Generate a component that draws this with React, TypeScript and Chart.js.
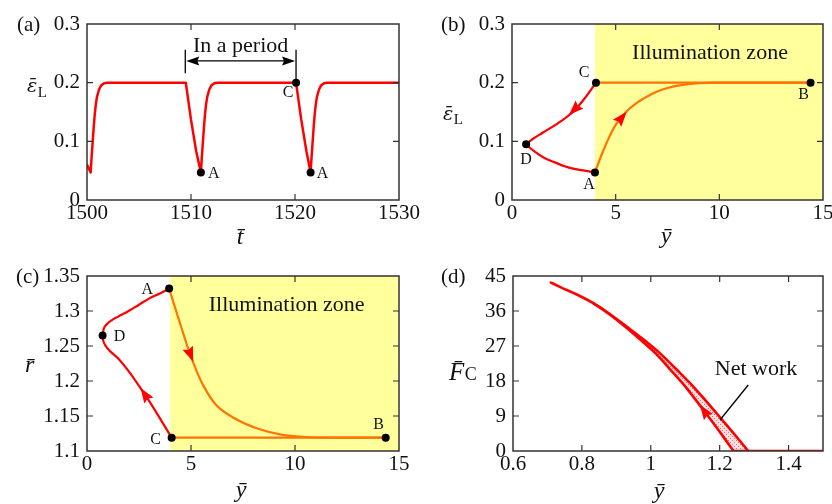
import { useEffect, useRef } from "react";
import { Chart, registerables } from "chart.js";

Chart.register(...registerables);

const SERIF = '"Liberation Serif", "Times New Roman", Times, serif';
const GREEK = '"DejaVu Serif", "Liberation Serif", serif';
Chart.defaults.font.family = SERIF;

const RED = "#ff0000";
const ORANGE = "#ff7300";
const YELLOW = "#ffff9c";
const FRAME = "#333333";
const INK = "#111111";

// ---------------- Panel (a): strain vs time ----------------
const aTime = [
  1500.0, 1500.35, 1500.45, 1500.55, 1500.65, 1500.75, 1500.85, 1500.95, 1501.15, 1501.35, 1501.65, 1501.95,
  1509.5, 1510.0, 1510.5, 1510.95, 1511.05, 1511.15, 1511.25, 1511.35, 1511.45, 1511.55, 1511.75, 1511.95, 1512.25, 1512.55,
  1520.1, 1520.6, 1521.1, 1521.5, 1521.6, 1521.7, 1521.8, 1521.9, 1522.0, 1522.1, 1522.3, 1522.5, 1522.8, 1523.1,
  1530.0,
];
const aStrain = [
  0.06, 0.047, 0.075, 0.1, 0.125, 0.147, 0.163, 0.175, 0.188, 0.195, 0.199, 0.2,
  0.2, 0.137, 0.083, 0.047, 0.075, 0.1, 0.125, 0.147, 0.163, 0.175, 0.188, 0.195, 0.199, 0.2,
  0.2, 0.137, 0.083, 0.047, 0.075, 0.1, 0.125, 0.147, 0.163, 0.175, 0.188, 0.195, 0.199, 0.2,
  0.2,
];
const aMarkT = [1510.95, 1520.1, 1521.5];
const aMarkE = [0.047, 0.2, 0.047];
const aMarkLabels = ["A", "C", "A"];
const aXTicks = [1500, 1510, 1520, 1530];
const aXTickLabels = ["1500", "1510", "1520", "1530"];
const aYTicks = [0, 0.1, 0.2, 0.3];
const aYTickLabels = ["0", "0.1", "0.2", "0.3"];
const aPeriodStart = 1509.45;
const aPeriodEnd = 1520.1;
const aPeriodLevel = 0.237;
const aPeriodBarTop = 0.256;
const aPeriodBarLeftBottom = 0.216;
const aPeriodTextLevel = 0.262;

// ---------------- Panel (b): strain vs displacement ----------------
const bCDy = [4.05, 3.5, 3.0, 2.5, 2.0, 1.5, 1.0, 0.68];
const bCDe = [0.2, 0.173, 0.152, 0.138, 0.126, 0.115, 0.104, 0.095];
const bDAy = [0.68, 1.0, 1.5, 2.0, 2.5, 3.0, 3.5, 4.0];
const bDAe = [0.095, 0.085, 0.073, 0.065, 0.058, 0.053, 0.05, 0.047];
const bABy = [4.0, 4.2, 4.4, 4.7, 5.0, 5.5, 6.0, 6.5, 7.0, 7.5, 8.0, 9.0, 10.0, 14.4];
const bABe = [0.047, 0.066, 0.084, 0.108, 0.128, 0.15, 0.165, 0.176, 0.185, 0.191, 0.195, 0.199, 0.2, 0.2];
const bBCy = [4.05, 14.4];
const bBCe = [0.2, 0.2];
const bMarkY = [4.05, 14.4, 0.68, 4.0];
const bMarkE = [0.2, 0.2, 0.095, 0.047];
const bMarkLabels = ["C", "B", "D", "A"];
const bXTicks = [0, 5, 10, 15];
const bXTickLabels = ["0", "5", "10", "15"];
const bYTicks = [0, 0.1, 0.2, 0.3];
const bYTickLabels = ["0", "0.1", "0.2", "0.3"];
const bZoneStart = 4.0;
const bArrows = [
  [3.25, 0.1625, 2.75, 0.145],
  [5.05, 0.13, 5.55, 0.151],
];
const bZoneTextAt = [9.55, 0.2505];

// ---------------- Panel (c): radius vs displacement ----------------
const cCDy = [4.07, 3.5, 3.0, 2.5, 2.0, 1.5, 1.1, 0.9, 0.78, 0.75];
const cCDr = [1.119, 1.147, 1.171, 1.193, 1.214, 1.232, 1.243, 1.25, 1.258, 1.265];
const cDAy = [0.75, 0.8, 0.95, 1.2, 1.5, 2.0, 2.5, 3.0, 3.5, 3.95];
const cDAr = [1.265, 1.274, 1.281, 1.287, 1.292, 1.3, 1.309, 1.318, 1.325, 1.332];
const cABy = [3.95, 4.2, 4.5, 4.9, 5.3, 5.6, 6.2, 7.2, 8.3, 9.4, 10.5, 11.5, 14.36];
const cABr = [1.332, 1.308, 1.28, 1.243, 1.212, 1.193, 1.166, 1.145, 1.131, 1.123, 1.12, 1.119, 1.119];
const cBCy = [4.07, 14.36];
const cBCr = [1.119, 1.119];
const cMarkY = [3.95, 0.75, 4.07, 14.36];
const cMarkR = [1.332, 1.265, 1.119, 1.119];
const cMarkLabels = ["A", "D", "C", "B"];
const cXTicks = [0, 5, 10, 15];
const cXTickLabels = ["0", "5", "10", "15"];
const cYTicks = [1.1, 1.15, 1.2, 1.25, 1.3, 1.35];
const cYTickLabels = ["1.1", "1.15", "1.2", "1.25", "1.3", "1.35"];
const cZoneStart = 4.0;
const cArrows = [
  [4.8, 1.251, 5.15, 1.224],
  [3.0, 1.171, 2.55, 1.191],
];
const cZoneTextAt = [9.6, 1.3086];

// ---------------- Panel (d): force vs displacement ----------------
const dOuterY = [0.71, 0.736, 0.8, 0.833, 0.88, 0.93, 0.98, 1.027, 1.08, 1.124, 1.16, 1.191, 1.24, 1.283];
const dOuterF = [43.3, 42.2, 39.6, 38.0, 35.3, 32.0, 28.6, 25.1, 20.5, 16.5, 12.9, 9.7, 4.6, 0];
const dInnerY = [0.833, 0.878, 0.925, 0.965, 1.014, 1.054, 1.101, 1.13, 1.16, 1.203, 1.24];
const dInnerF = [38.0, 35.3, 32.0, 29.0, 25.1, 21.2, 16.5, 13.2, 9.7, 4.6, 0];
const dBaseY = [1.24, 1.5];
const dBaseF = [0, 0];
const dXTicks = [0.6, 0.8, 1, 1.2, 1.4];
const dXTickLabels = ["0.6", "0.8", "1", "1.2", "1.4"];
const dYTicks = [0, 9, 18, 27, 36, 45];
const dYTickLabels = ["0", "9", "18", "27", "36", "45"];
const dArrows = [[1.17, 8.4, 1.14, 12.2]];
const dNetTextAt = [1.3056, 21.1];
const dLeader = [1.283, 16.97, 1.201, 7.97];

type XY = { x: number; y: number };
const pts = (xs: number[], ys: number[]): XY[] => xs.map((x, i) => ({ x, y: ys[i] }));

const lineDs = (data: XY[], color: string, width: number, mono: boolean) => ({
  data,
  borderColor: color,
  borderWidth: width,
  pointRadius: 0,
  fill: false,
  showLine: true,
  tension: 0,
  cubicInterpolationMode: mono ? "monotone" : "default",
  borderJoinStyle: "round",
  borderCapStyle: "round",
});

const markDs = (xs: number[], ys: number[]) => ({
  data: pts(xs, ys),
  showLine: false,
  pointRadius: 4,
  pointBackgroundColor: "#000",
  pointBorderColor: "#000",
  pointBorderWidth: 0,
  borderColor: "#000",
});

interface Panel {
  w: number;
  h: number;
  plot: { l: number; t: number; r: number; b: number };
  xMin: number;
  xMax: number;
  yMin: number;
  yMax: number;
  xTicks: number[];
  xTickLabels: string[];
  yTicks: number[];
  yTickLabels: string[];
  datasets: (ctx: CanvasRenderingContext2D) => any[];
  zoneFrom?: number;
  marks: { x: number[]; y: number[]; labels: string[]; offsets: [number, number][] };
  arrows: number[][];
  tag: { text: string; x: number; y: number };
  xTitle: { text: string; x: number; y: number; size: number };
  yTitle: { main: string; family?: string; sub?: string; x: number; y: number; size: number; subSize?: number; subDy?: number };
  extra?: (ctx: CanvasRenderingContext2D, X: (v: number) => number, Y: (v: number) => number) => void;
}

function arrowHead(ctx: CanvasRenderingContext2D, cx: number, cy: number, ang: number, len: number, wid: number, color: string) {
  const c = Math.cos(ang), s = Math.sin(ang);
  const tipX = cx + (c * len) / 2, tipY = cy + (s * len) / 2;
  const bx = cx - (c * len) / 2, by = cy - (s * len) / 2;
  const nx = bx + c * len * 0.15, ny = by + s * len * 0.15;
  ctx.save();
  ctx.fillStyle = color;
  ctx.beginPath();
  ctx.moveTo(tipX, tipY);
  ctx.lineTo(bx - (s * wid) / 2, by + (c * wid) / 2);
  ctx.lineTo(nx, ny);
  ctx.lineTo(bx + (s * wid) / 2, by - (c * wid) / 2);
  ctx.closePath();
  ctx.fill();
  ctx.restore();
}

function arrowTip(ctx: CanvasRenderingContext2D, tipX: number, tipY: number, ang: number, len: number, wid: number, color: string) {
  const c = Math.cos(ang), s = Math.sin(ang);
  arrowHead(ctx, tipX - (c * len) / 2, tipY - (s * len) / 2, ang, len, wid, color);
}

const decor = (P: Panel) => ({
  id: "decor",
  beforeDatasetsDraw(chart: any) {
    const { ctx, chartArea: a, scales } = chart;
    if (P.zoneFrom !== undefined) {
      const x0 = scales.x.getPixelForValue(P.zoneFrom);
      ctx.save();
      ctx.fillStyle = YELLOW;
      ctx.fillRect(x0, a.top, a.right - x0, a.bottom - a.top);
      ctx.restore();
    }
  },
  afterDatasetsDraw(chart: any) {
    const { ctx, chartArea: a, scales } = chart;
    const X = (v: number) => scales.x.getPixelForValue(v);
    const Y = (v: number) => scales.y.getPixelForValue(v);
    ctx.save();
    for (const [x1, y1, x2, y2] of P.arrows) {
      const p1x = X(x1), p1y = Y(y1), p2x = X(x2), p2y = Y(y2);
      arrowHead(ctx, (p1x + p2x) / 2, (p1y + p2y) / 2, Math.atan2(p2y - p1y, p2x - p1x), 15, 11, RED);
    }
    if (P.extra) P.extra(ctx, X, Y);

    // frame
    ctx.strokeStyle = FRAME;
    ctx.lineWidth = 1.5;
    ctx.strokeRect(a.left, a.top, a.right - a.left, a.bottom - a.top);
    // inward ticks on all sides
    ctx.lineWidth = 1.2;
    ctx.beginPath();
    for (const v of P.xTicks) {
      if (v <= P.xMin || v >= P.xMax) continue;
      const x = X(v);
      ctx.moveTo(x, a.bottom);
      ctx.lineTo(x, a.bottom - 6);
      ctx.moveTo(x, a.top);
      ctx.lineTo(x, a.top + 6);
    }
    for (const v of P.yTicks) {
      if (v <= P.yMin + 1e-9 || v >= P.yMax - 1e-9) continue;
      const y = Y(v);
      ctx.moveTo(a.left, y);
      ctx.lineTo(a.left + 6, y);
      ctx.moveTo(a.right, y);
      ctx.lineTo(a.right - 6, y);
    }
    ctx.stroke();

    // point labels
    ctx.fillStyle = INK;
    ctx.font = `16px ${SERIF}`;
    ctx.textAlign = "center";
    ctx.textBaseline = "middle";
    P.marks.labels.forEach((lab, i) => {
      const [dx, dy] = P.marks.offsets[i];
      ctx.fillText(lab, X(P.marks.x[i]) + dx, Y(P.marks.y[i]) + dy);
    });

    // panel tag
    ctx.textAlign = "left";
    ctx.textBaseline = "alphabetic";
    ctx.font = `21px ${SERIF}`;
    ctx.fillText(P.tag.text, P.tag.x, P.tag.y);

    // x title
    ctx.textAlign = "center";
    ctx.font = `italic ${P.xTitle.size}px ${SERIF}`;
    ctx.fillText(P.xTitle.text, P.xTitle.x, P.xTitle.y);

    // y title
    ctx.textAlign = "left";
    ctx.font = `italic ${P.yTitle.size}px ${P.yTitle.family || SERIF}`;
    ctx.fillText(P.yTitle.main, P.yTitle.x, P.yTitle.y);
    if (P.yTitle.sub) {
      const w = ctx.measureText(P.yTitle.main).width;
      ctx.font = `${P.yTitle.subSize || 15}px ${SERIF}`;
      ctx.fillText(P.yTitle.sub, P.yTitle.x + w + 0.5, P.yTitle.y + (P.yTitle.subDy || 0));
    }
    ctx.restore();
  },
});

function makeConfig(P: Panel, ctx: CanvasRenderingContext2D): any {
  const tickFont = { family: SERIF, size: 21, style: "normal", weight: "normal" };
  return {
    type: "line",
    data: { datasets: P.datasets(ctx) },
    options: {
      responsive: false,
      animation: false,
      devicePixelRatio: 1,
      events: [],
      layout: { padding: { left: 0, top: P.plot.t, right: P.w - P.plot.r, bottom: 0 } },
      elements: { point: { radius: 0 }, line: { tension: 0 } },
      plugins: { legend: { display: false }, tooltip: { enabled: false }, title: { display: false } },
      scales: {
        x: {
          type: "linear",
          min: P.xMin,
          max: P.xMax,
          afterBuildTicks: (s: any) => {
            s.ticks = P.xTicks.map((v) => ({ value: v }));
          },
          ticks: {
            autoSkip: false,
            maxRotation: 0,
            minRotation: 0,
            padding: 1,
            color: INK,
            font: tickFont,
            callback: (_v: any, i: number) => P.xTickLabels[i],
          },
          grid: { display: false, drawTicks: false },
          border: { display: false },
          afterFit: (s: any) => {
            s.height = P.h - P.plot.b;
            s.paddingLeft = 0;
            s.paddingRight = 0;
          },
        },
        y: {
          type: "linear",
          min: P.yMin,
          max: P.yMax,
          afterBuildTicks: (s: any) => {
            s.ticks = P.yTicks.map((v) => ({ value: v }));
          },
          ticks: {
            autoSkip: false,
            padding: 7,
            color: INK,
            font: tickFont,
            callback: (_v: any, i: number) => P.yTickLabels[i],
          },
          grid: { display: false, drawTicks: false },
          border: { display: false },
          afterFit: (s: any) => {
            s.width = P.plot.l;
            s.paddingTop = 0;
            s.paddingBottom = 0;
          },
        },
      },
    },
    plugins: [decor(P)],
  };
}

const panelA: Panel = {
  w: 440,
  h: 252,
  plot: { l: 87, t: 24, r: 399, b: 200 },
  xMin: 1500,
  xMax: 1530,
  yMin: 0,
  yMax: 0.3,
  xTicks: aXTicks,
  xTickLabels: aXTickLabels,
  yTicks: aYTicks,
  yTickLabels: aYTickLabels,
  datasets: () => [markDs(aMarkT, aMarkE), lineDs(pts(aTime, aStrain), RED, 2.5, false)],
  marks: { x: aMarkT, y: aMarkE, labels: aMarkLabels, offsets: [[13, 1], [-8, 10], [12, 1]] },
  arrows: [],
  tag: { text: "(a)", x: 17, y: 31 },
  xTitle: { text: "t\u0304", x: 240, y: 244, size: 24 },
  yTitle: { main: "\u03b5\u0304", family: GREEK, sub: "L", x: 27, y: 92, size: 19, subSize: 15, subDy: 5 },
  extra: (ctx, X, Y) => {
    const x1 = X(aPeriodStart), x2 = X(aPeriodEnd), yl = Y(aPeriodLevel);
    ctx.save();
    ctx.strokeStyle = "#000";
    ctx.lineWidth = 1.3;
    ctx.beginPath();
    ctx.moveTo(x1, Y(aPeriodBarTop));
    ctx.lineTo(x1, Y(aPeriodBarLeftBottom));
    ctx.moveTo(x2, Y(aPeriodBarTop));
    ctx.lineTo(x2, Y(aMarkE[1]));
    ctx.moveTo(x1 + 8, yl);
    ctx.lineTo(x2 - 8, yl);
    ctx.stroke();
    arrowTip(ctx, x1 + 1, yl, Math.PI, 13, 9, "#000");
    arrowTip(ctx, x2 - 1, yl, 0, 13, 9, "#000");
    ctx.fillStyle = INK;
    ctx.font = `22px ${SERIF}`;
    ctx.textAlign = "center";
    ctx.textBaseline = "middle";
    ctx.fillText("In a period", (x1 + x2) / 2, Y(aPeriodTextLevel));
    ctx.restore();
  },
};

const panelB: Panel = {
  w: 416,
  h: 252,
  plot: { l: 96, t: 24, r: 407, b: 200 },
  xMin: 0,
  xMax: 15,
  yMin: 0,
  yMax: 0.3,
  xTicks: bXTicks,
  xTickLabels: bXTickLabels,
  yTicks: bYTicks,
  yTickLabels: bYTickLabels,
  zoneFrom: bZoneStart,
  datasets: () => [
    markDs(bMarkY, bMarkE),
    lineDs(pts(bCDy, bCDe), RED, 2.2, true),
    lineDs(pts(bDAy, bDAe), RED, 2.2, true),
    lineDs(pts(bABy, bABe), ORANGE, 2.2, true),
    lineDs(pts(bBCy, bBCe), ORANGE, 2.2, false),
  ],
  marks: { x: bMarkY, y: bMarkE, labels: bMarkLabels, offsets: [[-12, -10], [-7, 12], [0, 16], [-6, 12]] },
  arrows: bArrows,
  tag: { text: "(b)", x: 25, y: 31 },
  xTitle: { text: "y\u0304", x: 250, y: 243, size: 24 },
  yTitle: { main: "\u03b5\u0304", family: GREEK, sub: "L", x: 27, y: 120, size: 19, subSize: 15, subDy: 4 },
  extra: (ctx, X, Y) => {
    ctx.save();
    ctx.fillStyle = INK;
    ctx.font = `22px ${SERIF}`;
    ctx.textAlign = "center";
    ctx.textBaseline = "middle";
    ctx.fillText("Illumination zone", X(bZoneTextAt[0]), Y(bZoneTextAt[1]));
    ctx.restore();
  },
};

const panelC: Panel = {
  w: 440,
  h: 252,
  plot: { l: 87, t: 24, r: 399, b: 199 },
  xMin: 0,
  xMax: 15,
  yMin: 1.1,
  yMax: 1.35,
  xTicks: cXTicks,
  xTickLabels: cXTickLabels,
  yTicks: cYTicks,
  yTickLabels: cYTickLabels,
  zoneFrom: cZoneStart,
  datasets: () => [
    markDs(cMarkY, cMarkR),
    lineDs(pts(cCDy, cCDr), RED, 2.2, true),
    lineDs(pts(cDAy, cDAr), RED, 2.2, true),
    lineDs(pts(cABy, cABr), ORANGE, 2.2, true),
    lineDs(pts(cBCy, cBCr), ORANGE, 2.2, false),
  ],
  marks: { x: cMarkY, y: cMarkR, labels: cMarkLabels, offsets: [[-22, 1], [17, 1], [-16, 2], [-7, -13]] },
  arrows: cArrows,
  tag: { text: "(c)", x: 16, y: 31 },
  xTitle: { text: "y\u0304", x: 241, y: 245, size: 24 },
  yTitle: { main: "r\u0304", x: 25, y: 120, size: 24 },
  extra: (ctx, X, Y) => {
    ctx.save();
    ctx.fillStyle = INK;
    ctx.font = `22px ${SERIF}`;
    ctx.textAlign = "center";
    ctx.textBaseline = "middle";
    ctx.fillText("Illumination zone", X(cZoneTextAt[0]), Y(cZoneTextAt[1]));
    ctx.restore();
  },
};

function makeStipple(ctx: CanvasRenderingContext2D): CanvasPattern | string {
  const c = document.createElement("canvas");
  c.width = 4;
  c.height = 4;
  const g = c.getContext("2d");
  if (!g) return "#ffcccc";
  g.fillStyle = "#ffe0e0";
  g.fillRect(0, 0, 4, 4);
  g.fillStyle = "#f26a6a";
  g.fillRect(0, 0, 1, 1);
  g.fillRect(2, 2, 1, 1);
  return ctx.createPattern(c, "repeat") || "#ffcccc";
}

const panelD: Panel = {
  w: 416,
  h: 252,
  plot: { l: 97, t: 24, r: 407, b: 199 },
  xMin: 0.6,
  xMax: 1.5,
  yMin: 0,
  yMax: 45,
  xTicks: dXTicks,
  xTickLabels: dXTickLabels,
  yTicks: dYTicks,
  yTickLabels: dYTickLabels,
  datasets: (ctx) => [
    lineDs(pts(dOuterY, dOuterF), RED, 2.6, true),
    lineDs(pts(dInnerY, dInnerF), RED, 2.6, true),
    lineDs(pts(dBaseY, dBaseF), RED, 2.6, false),
    {
      data: [...pts(dOuterY.slice(3), dOuterF.slice(3)), ...pts(dInnerY, dInnerF).reverse()],
      borderColor: "rgba(0,0,0,0)",
      borderWidth: 1,
      pointRadius: 0,
      showLine: true,
      tension: 0,
      fill: "shape",
      backgroundColor: makeStipple(ctx),
    },
  ],
  marks: { x: [], y: [], labels: [], offsets: [] },
  arrows: dArrows,
  tag: { text: "(d)", x: 25, y: 31 },
  xTitle: { text: "y\u0304", x: 243, y: 246, size: 24 },
  yTitle: { main: "F\u0304", sub: "C", x: 33, y: 128, size: 25, subSize: 18, subDy: 0 },
  extra: (ctx, X, Y) => {
    ctx.save();
    ctx.strokeStyle = "#000";
    ctx.lineWidth = 1.3;
    ctx.beginPath();
    ctx.moveTo(X(dLeader[0]), Y(dLeader[1]));
    ctx.lineTo(X(dLeader[2]), Y(dLeader[3]));
    ctx.stroke();
    ctx.fillStyle = INK;
    ctx.font = `22px ${SERIF}`;
    ctx.textAlign = "center";
    ctx.textBaseline = "middle";
    ctx.fillText("Net work", X(dNetTextAt[0]), Y(dNetTextAt[1]));
    ctx.restore();
  },
};

function PanelCanvas({ panel, left, top }: { panel: Panel; left: number; top: number }) {
  const ref = useRef<HTMLCanvasElement | null>(null);
  useEffect(() => {
    const canvas = ref.current;
    if (!canvas) return;
    const ctx = canvas.getContext("2d");
    if (!ctx) return;
    const chart = new Chart(ctx, makeConfig(panel, ctx));
    return () => chart.destroy();
  }, [panel]);
  return (
    <canvas
      ref={ref}
      width={panel.w}
      height={panel.h}
      style={{ position: "absolute", left, top, width: panel.w, height: panel.h, display: "block" }}
    />
  );
}

export default function App() {
  return (
    <div style={{ position: "absolute", left: 0, top: 0, width: 832, height: 504, background: "#fff", overflow: "hidden" }}>
      <PanelCanvas panel={panelA} left={0} top={0} />
      <PanelCanvas panel={panelB} left={416} top={0} />
      <PanelCanvas panel={panelC} left={0} top={252} />
      <PanelCanvas panel={panelD} left={416} top={252} />
    </div>
  );
}
